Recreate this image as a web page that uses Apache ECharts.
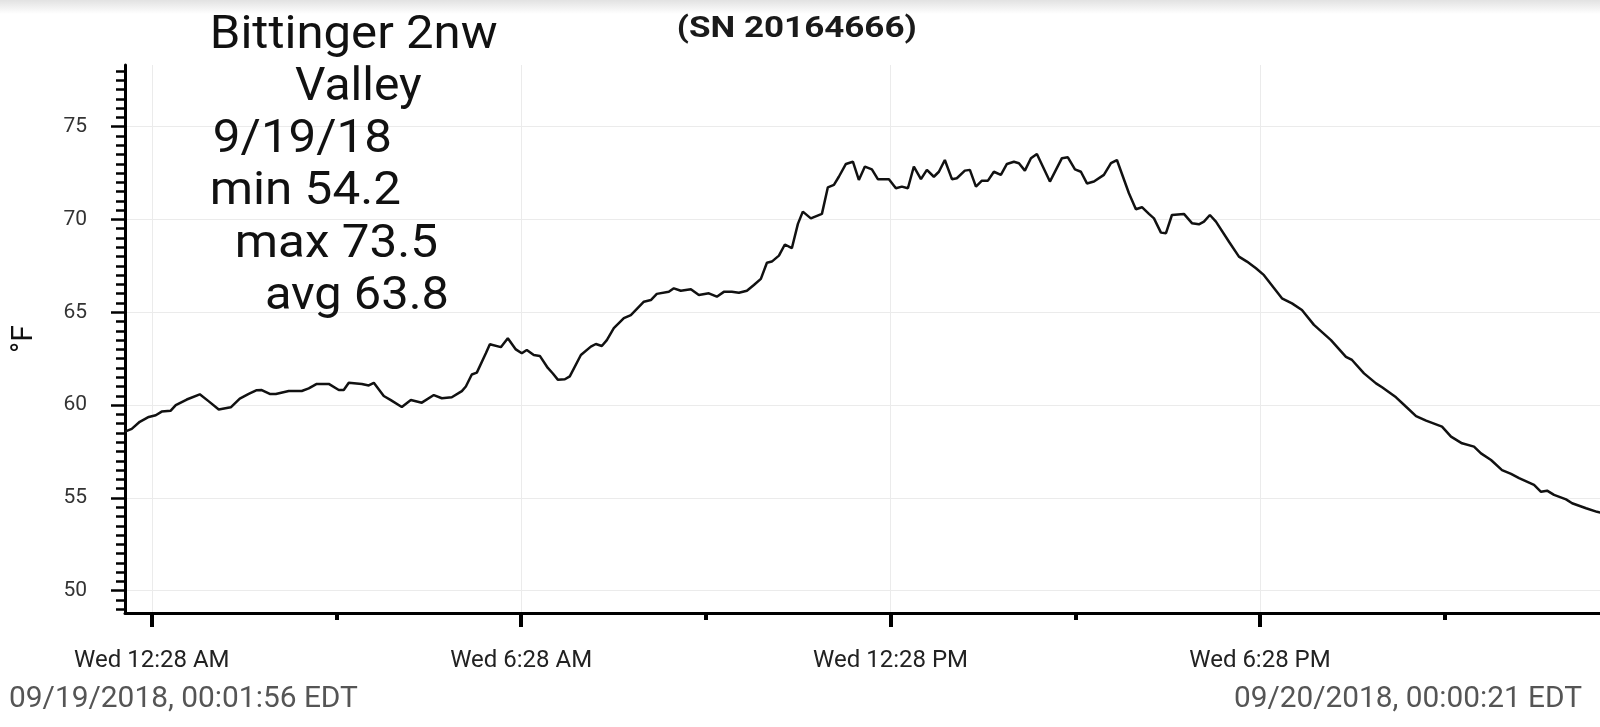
<!DOCTYPE html>
<html><head><meta charset="utf-8">
<script src="https://cdn.jsdelivr.net/npm/echarts@6/dist/echarts.min.js"></script>
<style>html,body{margin:0;padding:0;background:#fff}#chart{width:1600px;height:727px}</style>
</head><body><div id="chart"></div>
<script>
// minutes since midnight 9/19/2018 (EDT)
const times = [1.93, 8.5, 16.3, 25.1, 31.9, 37.7, 46.5, 51.4, 62.1, 74.8,
  83.6, 93.3, 105.0, 113.8, 122.5, 130.3, 135.2, 143.0, 148.9, 161.5,
  174.2, 181.0, 188.8, 200.5, 210.3, 215.1, 220.0, 232.7, 239.5, 244.4,
  254.1, 261.0, 271.7, 280.5, 291.2, 302.9, 310.7, 320.4, 330.2, 334.1,
  339.9, 344.8, 353.6, 357.5, 368.2, 375.0, 382.8, 388.6, 393.5, 400.3,
  406.2, 414.0, 418.9, 423.7, 430.6, 435.4, 446.2, 455.9, 460.8, 466.6,
  471.5, 478.3, 488.1, 494.9, 507.6, 514.4, 520.2, 531.9, 536.8, 543.6,
  553.4, 561.2, 570.9, 578.7, 585.5, 593.3, 600.2, 608.0, 614.8, 621.6,
  627.5, 632.3, 639.2, 645.0, 651.8, 657.7, 662.5, 670.3, 681.1, 686.9,
  692.8, 697.6, 704.5, 711.3, 717.1, 723.0, 729.8, 735.6, 746.4, 753.2,
  759.0, 764.9, 770.7, 777.6, 783.4, 790.2, 795.1, 800.9, 807.8, 812.6,
  820.4, 825.3, 831.2, 837.0, 842.9, 848.7, 855.5, 861.4, 868.2, 873.1,
  878.9, 884.8, 890.6, 903.3, 915.0, 920.8, 927.7, 933.5, 939.4, 946.2,
  955.9, 962.8, 968.6, 980.3, 987.1, 993.0, 999.8, 1004.7, 1011.5, 1016.4,
  1022.2, 1033.9, 1041.7, 1048.5, 1053.4, 1059.2, 1065.1, 1077.8, 1087.5, 1095.3,
  1104.1, 1111.9, 1129.4, 1139.2, 1148.9, 1160.6, 1177.2, 1191.8, 1197.7, 1209.4,
  1221.1, 1227.0, 1240.6, 1250.4, 1260.1, 1269.9, 1285.4, 1294.2, 1304.9, 1316.6,
  1323.4, 1333.2, 1343.9, 1352.7, 1360.5, 1375.1, 1381.9, 1387.8, 1394.6, 1406.3,
  1412.2, 1425.8, 1436.5, 1440.35];
// temperature, °F
const temps = [58.57, 58.72, 59.1, 59.36, 59.45, 59.65, 59.7, 60.0, 60.3, 60.58,
  60.2, 59.76, 59.88, 60.35, 60.6, 60.8, 60.81, 60.6, 60.6, 60.76,
  60.76, 60.9, 61.14, 61.14, 60.81, 60.81, 61.2, 61.14, 61.06, 61.2,
  60.49, 60.27, 59.9, 60.27, 60.13, 60.54, 60.37, 60.42, 60.75, 61.0,
  61.65, 61.75, 62.79, 63.28, 63.12, 63.6, 63.0, 62.79, 62.97, 62.7,
  62.65, 62.0, 61.7, 61.37, 61.39, 61.55, 62.7, 63.15, 63.29, 63.18,
  63.5, 64.14, 64.68, 64.85, 65.57, 65.66, 65.99, 66.1, 66.29, 66.16,
  66.24, 65.93, 66.02, 65.84, 66.1, 66.1, 66.05, 66.16, 66.47, 66.8,
  67.67, 67.73, 68.05, 68.65, 68.45, 69.76, 70.42, 70.06, 70.3, 71.73,
  71.86, 72.3, 72.99, 73.11, 72.13, 72.85, 72.7, 72.17, 72.17, 71.68,
  71.77, 71.68, 72.85, 72.17, 72.67, 72.3, 72.57, 73.2, 72.17, 72.22,
  72.63, 72.67, 71.77, 72.09, 72.09, 72.57, 72.4, 72.99, 73.11, 73.03,
  72.63, 73.3, 73.53, 72.04, 73.3, 73.35, 72.7, 72.57, 71.94, 72.04,
  72.4, 73.03, 73.2, 71.41, 70.55, 70.66, 70.3, 70.06, 69.29, 69.26,
  70.24, 70.3, 69.8, 69.74, 69.88, 70.24, 69.88, 68.8, 68.0, 67.73,
  67.37, 67.0, 65.75, 65.48, 65.12, 64.32, 63.5, 62.6, 62.43, 61.71,
  61.17, 60.96, 60.42, 59.91, 59.41, 59.16, 58.84, 58.3, 57.94, 57.76,
  57.4, 57.04, 56.5, 56.29, 56.06, 55.7, 55.33, 55.39, 55.16, 54.92,
  54.71, 54.44, 54.25, 54.2];

const xRange = [1.93, 1440.35];
const xMajorTicks = [28, 388, 748, 1108];
const xMajorLabels = ['Wed 12:28 AM', 'Wed 6:28 AM', 'Wed 12:28 PM', 'Wed 6:28 PM'];
const xMinorTicks = [208, 568, 928, 1288];
const yRange = [48.8, 78.32];
const yMajorTicks = [50, 55, 60, 65, 70, 75];
const yUnit = '°F';
const titleLines = ['Bittinger 2nw', 'Valley', '9/19/18', 'min 54.2', 'max 73.5', 'avg 63.8'];
const serialText = '(SN 20164666)';
const startStamp = '09/19/2018, 00:01:56 EDT';
const endStamp = '09/20/2018, 00:00:21 EDT';

const yMinorTicks = [];
for (let k = 0; k <= 58; k++) yMinorTicks.push(49 + k * 0.5);

const mctx = document.createElement('canvas').getContext('2d');
function fitText(text, font, left, right, cy, fill) {
  mctx.font = font;
  const m = mctx.measureText(text);
  const inkL = -m.actualBoundingBoxLeft;
  const inkW = m.actualBoundingBoxRight + m.actualBoundingBoxLeft;
  const s = (right - left) / inkW;
  return {
    type: 'text', x: left - inkL * s, y: cy, scaleX: s, scaleY: 1, silent: true, z: 10,
    style: { text: text, font: font, fill: fill, textAlign: 'left', textVerticalAlign: 'middle', verticalAlign: 'middle' }
  };
}

const titleBoxes = [[213, 497, 36.5], [295, 422, 88.5], [215, 390, 140.5], [213, 400, 192.5], [238, 437, 245], [267, 447, 297]];
const graphics = [
  { type: 'rect', shape: { x: 0, y: 0, width: 1600, height: 14 }, silent: true, z: 0,
    style: { fill: new echarts.graphic.LinearGradient(0, 0, 0, 1, [{ offset: 0, color: '#e2e2e2' }, { offset: 1, color: '#ffffff' }]) } }
];
titleLines.forEach((t, i) => {
  const b = titleBoxes[i];
  graphics.push(fitText(t, '46px Roboto', b[0], b[1], b[2], '#111'));
});
graphics.push(fitText(serialText, 'bold 30px Roboto', 678, 915, 29.5, '#1a1a1a'));
graphics.push(fitText(startStamp, '30px Roboto', 10, 358, 699.5, '#555'));
graphics.push(fitText(endStamp, '30px Roboto', 1235, 1582, 699.5, '#555'));

const chart = echarts.init(document.getElementById('chart'), null, { renderer: 'canvas' });
chart.setOption({
  animation: false,
  backgroundColor: '#ffffff',
  grid: { left: 125, right: -1, top: 65, bottom: 114, containLabel: false, outerBoundsMode: 'none' },
  xAxis: [
    {
      type: 'value', min: xRange[0], max: xRange[1], position: 'bottom',
      axisLine: { show: true, onZero: false, lineStyle: { color: '#000', width: 3 } },
      axisTick: { show: true, customValues: xMajorTicks, length: 14, lineStyle: { color: '#000', width: 4 } },
      axisLabel: {
        show: true, customValues: xMajorTicks, margin: 36,
        fontFamily: 'Roboto', fontSize: 24, color: '#222',
        formatter: function (v) {
          let best = 0;
          xMajorTicks.forEach((t, i) => { if (Math.abs(t - v) < Math.abs(xMajorTicks[best] - v)) best = i; });
          return xMajorLabels[best];
        }
      },
      splitLine: { show: true, lineStyle: { color: '#ebebeb', width: 1 } }
    },
    {
      type: 'value', min: xRange[0], max: xRange[1], position: 'bottom',
      axisLine: { show: false, onZero: false },
      axisTick: { show: true, customValues: xMinorTicks, length: 7, lineStyle: { color: '#000', width: 4 } },
      axisLabel: { show: false },
      splitLine: { show: false }
    }
  ],
  yAxis: [
    {
      type: 'value', min: yRange[0], max: yRange[1], position: 'left',
      name: yUnit, nameLocation: 'middle', nameGap: 86, nameRotate: 90,
      nameTextStyle: { fontFamily: 'Roboto', fontSize: 30, color: '#111' },
      axisLine: { show: true, onZero: false, lineStyle: { color: '#000', width: 3 } },
      axisTick: { show: true, customValues: yMajorTicks, length: 14, lineStyle: { color: '#000', width: 2.5 } },
      axisLabel: { show: true, customValues: yMajorTicks, margin: 38, fontFamily: 'Roboto', fontSize: 21, color: '#333' },
      splitLine: { show: true, lineStyle: { color: '#ebebeb', width: 1 } }
    },
    {
      type: 'value', min: yRange[0], max: yRange[1], position: 'left',
      axisLine: { show: false, onZero: false },
      axisTick: { show: true, customValues: yMinorTicks, length: 9, lineStyle: { color: '#000', width: 2.5 } },
      axisLabel: { show: false },
      splitLine: { show: false }
    }
  ],
  graphic: graphics,
  series: [{
    type: 'line', xAxisIndex: 0, yAxisIndex: 0,
    data: times.map((t, i) => [t, temps[i]]),
    showSymbol: false, symbol: 'none', smooth: false,
    lineStyle: { color: '#111', width: 2.5 },
    z: 3
  }]
});
</script>
</body></html>
